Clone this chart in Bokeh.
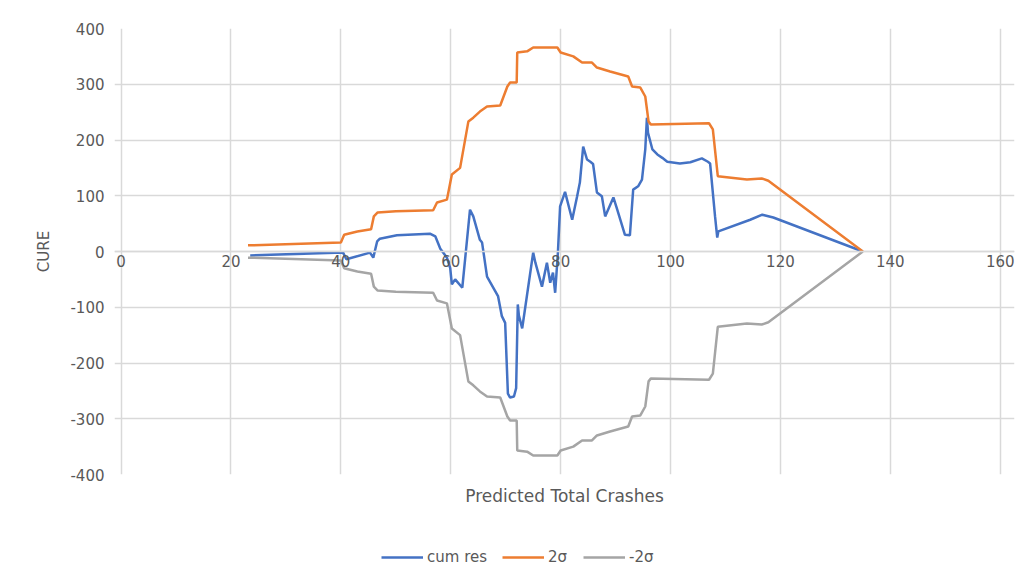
from bokeh.plotting import figure
from bokeh.layouts import column
from bokeh.models import Legend, LegendItem, FixedTicker, LinearAxis
from bokeh.embed import file_html
from bokeh.resources import INLINE

# cumulative residuals (x = predicted total crashes)
cum_x = [23.5, 40.4, 41.0, 45.3, 45.9, 46.6, 47.1, 50.2, 56.2, 57.2, 58.1, 59.3,
         59.9, 60.2, 60.8, 62.1, 63.5, 64.1, 65.3, 65.7, 66.6, 68.6, 69.3, 69.9,
         70.4, 70.8, 71.5, 71.9, 72.2, 72.4, 73.0, 73.5, 75.0, 75.4, 76.6, 77.5,
         78.1, 78.6, 79.0, 79.5, 79.9, 80.8, 82.1, 83.0, 83.5, 84.1, 84.8, 85.4,
         85.9, 86.6, 87.5, 88.1, 89.6, 90.3, 91.7, 92.6, 93.2, 94.1, 94.8, 95.4,
         95.7, 95.9, 96.7, 97.6, 98.5, 99.4, 101.7, 103.6, 105.7, 106.8, 107.2,
         108.1, 108.5, 108.7, 114.5, 116.7, 118.7, 135.0]
cum_res = [-7, -2, -14, -2, -11, 18, 23, 29, 32, 27, 5, -11,
           -30, -59, -50, -65, 75, 63, 21, 16, -45, -80, -116, -128,
           -255, -262, -260, -245, -95, -115, -138, -104, -2, -20, -63, -20,
           -56, -38, -74, -2, 81, 107, 57, 99, 124, 188, 165, 161,
           157, 106, 99, 63, 97, 75, 30, 29, 111, 117, 129, 183,
           240, 213, 183, 174, 168, 161, 158, 160, 167, 161, 158,
           63, 25, 36, 57, 66, 61, 0]

# 2-sigma band
sig_x = [23.1, 40.0, 40.6, 43.0, 45.5, 46.0, 46.7, 50.0, 56.8, 57.5, 59.3, 60.2,
         61.7, 63.2, 64.1, 65.3, 66.6, 69.0, 70.3, 70.8, 72.0, 72.1, 73.9, 75.0,
         79.4, 80.0, 82.3, 83.9, 85.7, 86.6, 89.0, 92.3, 93.0, 94.5, 95.4, 96.0,
         96.4, 107.0, 107.7, 108.6, 113.9, 116.6, 117.8, 135.0]
two_sigma = [11, 16, 30, 36, 40, 63, 70, 72, 74, 88, 93, 138,
             150, 233, 240, 251, 260, 262, 296, 303, 303, 357, 359, 366,
             366, 357, 350, 339, 339, 330, 323, 314, 296, 294, 278, 233,
             228, 230, 219, 135, 129, 131, 127, 0]
neg_two_sigma = [-v for v in two_sigma]

x_ticks = [0, 20, 40, 60, 80, 100, 120, 140, 160]
y_ticks = [-400, -300, -200, -100, 0, 100, 200, 300, 400]
series_names = ["cum res", "2σ", "-2σ"]
series_colors = ["#4472C4", "#ED7D31", "#A5A5A5"]

FONT = "DejaVu Sans"
TXT = "#595959"
GRID = "#d9d9d9"

BL, BR = 114, 11  # shared side borders (column aligns both figures' frames)

p = figure(width=1025, height=514, x_range=(-1.2, 162.6), y_range=(-400, 400),
           output_backend="svg", toolbar_location=None,
           min_border_left=BL, min_border_right=BR,
           min_border_top=28, min_border_bottom=40,
           background_fill_color="white", border_fill_color="white")
p.outline_line_color = None

p.xgrid.ticker = FixedTicker(ticks=x_ticks)
p.ygrid.ticker = FixedTicker(ticks=y_ticks)
for g in (p.xgrid, p.ygrid):
    g.grid_line_color = GRID
    g.grid_line_width = 1.5

# bottom axis: carries only the axis title
p.xaxis.ticker = FixedTicker(ticks=[])
p.xaxis.axis_line_color = None
p.xaxis.major_tick_line_color = None
p.xaxis.minor_tick_line_color = None
p.xaxis.major_tick_out = 0
p.xaxis.major_label_standoff = 0
p.xaxis.axis_label = "Predicted Total Crashes"
p.xaxis.axis_label_text_font = FONT
p.xaxis.axis_label_text_font_size = "17px"
p.xaxis.axis_label_text_font_style = "normal"
p.xaxis.axis_label_text_color = TXT
p.xaxis.axis_label_standoff = 11

# axis crossing at y = 0 with the tick labels
xzero = LinearAxis(fixed_location=0, ticker=FixedTicker(ticks=x_ticks))
xzero.axis_line_color = GRID
xzero.axis_line_width = 1.5
xzero.major_tick_line_color = None
xzero.minor_tick_line_color = None
xzero.major_tick_out = 0
xzero.major_label_standoff = 3
xzero.major_label_text_font = FONT
xzero.major_label_text_font_size = "15px"
xzero.major_label_text_color = TXT
p.add_layout(xzero, "below")

p.yaxis.ticker = FixedTicker(ticks=y_ticks)
p.yaxis.major_label_overrides = {t: str(t) for t in y_ticks}
p.yaxis.axis_line_color = None
p.yaxis.major_tick_line_color = None
p.yaxis.minor_tick_line_color = None
p.yaxis.major_tick_out = 0
p.yaxis.major_label_standoff = 10
p.yaxis.major_label_text_font = FONT
p.yaxis.major_label_text_font_size = "15px"
p.yaxis.major_label_text_color = TXT
p.yaxis.axis_label = "CURE"
p.yaxis.axis_label_text_font = FONT
p.yaxis.axis_label_text_font_size = "15px"
p.yaxis.axis_label_text_font_style = "normal"
p.yaxis.axis_label_text_color = TXT
p.yaxis.axis_label_standoff = 14

p.line(cum_x, cum_res, line_color=series_colors[0], line_width=2.5)
p.line(sig_x, two_sigma, line_color=series_colors[1], line_width=2.5)
p.line(sig_x, neg_two_sigma, line_color=series_colors[2], line_width=2.5)

# legend strip below the chart (its lines lie outside this strip's view)
lf = figure(width=1025, height=64, x_range=(0, 1), y_range=(0, 1),
            output_backend="svg", toolbar_location=None,
            min_border_left=BL, min_border_right=BR,
            min_border_top=10, min_border_bottom=0,
            background_fill_color="white", border_fill_color="white")
lf.outline_line_color = None
lf.xaxis.visible = False
lf.yaxis.visible = False
lf.xgrid.visible = False
lf.ygrid.visible = False
items = []
for name, col, xs, ys in zip(series_names, series_colors,
                             [cum_x, sig_x, sig_x],
                             [cum_res, two_sigma, neg_two_sigma]):
    r = lf.line(xs, ys, line_color=col, line_width=2.5)
    items.append(LegendItem(label=name, renderers=[r]))
legend = Legend(items=items, orientation="horizontal", location=(267, 12),
                border_line_color=None, background_fill_alpha=0,
                glyph_width=42, glyph_height=14, label_standoff=4, spacing=15,
                padding=6, margin=0,
                label_text_font=FONT, label_text_font_size="15px",
                label_text_color=TXT)
lf.add_layout(legend)

layout = column(p, lf, spacing=0)
open("out.html", "w").write(file_html(layout, INLINE))
